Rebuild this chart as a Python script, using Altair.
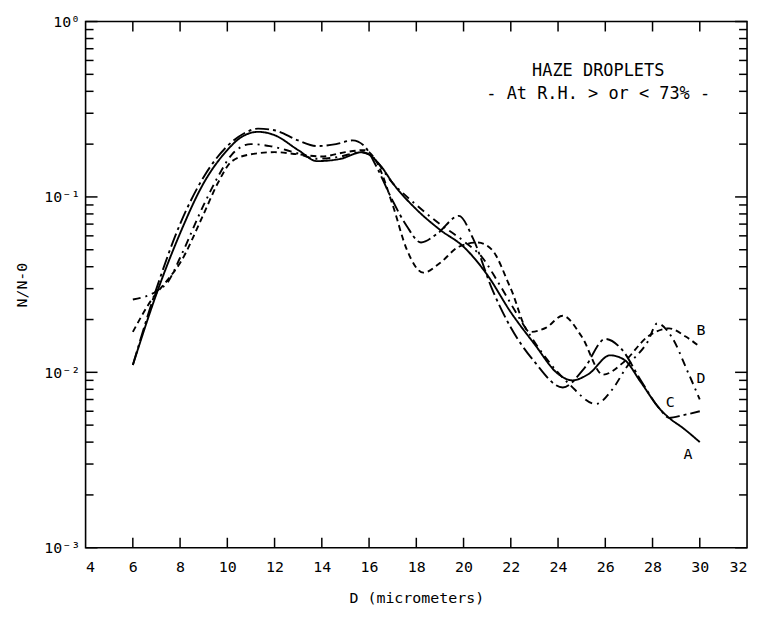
import altair as alt
import pandas as pd

# ---- data ----
xA = [6, 7, 8, 9, 10, 10.5, 11.3, 12, 13, 13.8, 14.8, 15.7, 16.5, 17, 18, 19, 20, 21, 22, 23,
      24, 24.6, 25.3, 26.2, 26.8, 27.5, 28.3, 28.7, 29.3, 30]
yA = [0.011, 0.028, 0.062, 0.12, 0.185, 0.215, 0.235, 0.225, 0.185, 0.16, 0.165, 0.18, 0.15, 0.12,
      0.085, 0.065, 0.052, 0.036, 0.022, 0.0145, 0.0098, 0.009, 0.0098, 0.0125, 0.0118, 0.0088,
      0.0062, 0.0055, 0.0048, 0.004]

xB = [6, 6.8, 7.5, 8, 9, 9.6, 10.2, 11, 12, 13, 14, 15, 15.8, 16.3, 17, 17.6, 18.3, 19, 19.8,
      20.6, 21.2, 22, 22.8, 23.5, 24.2, 25, 25.9, 26.8, 27.8, 28.7, 29.4, 30]
yB = [0.017, 0.026, 0.034, 0.042, 0.08, 0.12, 0.16, 0.175, 0.18, 0.175, 0.17, 0.18, 0.185, 0.16,
      0.09, 0.05, 0.037, 0.042, 0.052, 0.055, 0.05, 0.03, 0.017, 0.018, 0.021, 0.016, 0.0097,
      0.0115, 0.016, 0.0178, 0.016, 0.014]

xC = [6, 7, 8, 9, 10, 10.7, 11.3, 12, 13, 13.8, 14.6, 15.3, 15.8, 16.3, 17, 17.6, 18.2, 18.9,
      19.8, 20.4, 21.2, 22, 23, 24.2, 25.1, 26, 26.7, 27.5, 28.3, 28.7, 29.3, 30]
yC = [0.011, 0.03, 0.07, 0.13, 0.195, 0.23, 0.245, 0.24, 0.21, 0.195, 0.2, 0.21, 0.195, 0.15,
      0.095, 0.068, 0.055, 0.062, 0.078, 0.058, 0.03, 0.018, 0.0115, 0.0082, 0.0105, 0.0155,
      0.0135, 0.009, 0.0062, 0.0055, 0.0057, 0.006]

xD = [6, 7, 7.5, 8, 9, 9.6, 10.2, 11, 11.8, 12.8, 13.8, 14.8, 15.6, 16, 17, 18, 19, 20, 20.8,
      21.5, 22.5, 23.5, 24.5, 25.6, 26.3, 26.9, 27.8, 28.2, 28.8, 29.5, 30]
yD = [0.026, 0.029, 0.033, 0.045, 0.09, 0.13, 0.175, 0.2, 0.195, 0.18, 0.165, 0.17, 0.18, 0.175,
      0.12, 0.09, 0.07, 0.056, 0.045, 0.032, 0.019, 0.012, 0.0085, 0.0066, 0.008, 0.0107, 0.015,
      0.019, 0.016, 0.01, 0.007]

curve_names = ["A", "B", "C", "D"]
label_x = [29.5, 30.05, 28.75, 30.05]
label_y = [0.0034, 0.0175, 0.0068, 0.0093]

x_tick_values = [6, 8, 10, 12, 14, 16, 18, 20, 22, 24, 26, 28, 30]
x_label_values = [4, 6, 8, 10, 12, 14, 16, 18, 20, 22, 24, 26, 28, 30, 32]
y_major = [0.001, 0.01, 0.1, 1.0]
y_minor = [m * d for d in [0.001, 0.01, 0.1] for m in [2, 3, 4, 5, 6, 7, 8, 9]]

note_text = ["HAZE DROPLETS", "- At R.H. > or < 73% -"]
note_x = [25.7, 25.7]
note_y = [0.52, 0.385]

# ---- tables ----
rows = []
for name, xs, ys in zip(curve_names, [xA, xB, xC, xD], [yA, yB, yC, yD]):
    for xv, yv in zip(xs, ys):
        rows.append({"curve": name, "D": xv, "N": yv})
df = pd.DataFrame(rows)
labels_df = pd.DataFrame({"curve": curve_names, "D": label_x, "N": label_y})
notes_df = pd.DataFrame({"t": note_text, "D": note_x, "N": note_y})
xt_df = pd.DataFrame({"D": x_tick_values})
ymaj_df = pd.DataFrame({"N": y_major})
ymin_df = pd.DataFrame({"N": y_minor})

W, H = 665, 529
FONT = "DejaVu Sans Mono"

xscale = alt.Scale(domain=[4, 32], nice=False, zero=False)
yscale = alt.Scale(type="log", domain=[0.001, 1], nice=False)

xaxis = alt.Axis(values=x_label_values, title="D  (micrometers)", ticks=False, domain=False,
                 grid=False, labelPadding=12, titlePadding=16, format="d")
yaxis = alt.Axis(values=y_major, title="N/N-0", ticks=False, domain=False, grid=False,
                 labelPadding=6, titlePadding=14,
                 labelExpr="datum.value >= 0.9 ? '10⁰' : datum.value >= 0.09 ? '10⁻¹' : datum.value >= 0.009 ? '10⁻²' : '10⁻³'")

X = alt.X("D:Q", scale=xscale, axis=xaxis)
Y = alt.Y("N:Q", scale=yscale, axis=yaxis)

lines = alt.Chart(df).mark_line(color="black", strokeWidth=1.9, interpolate="monotone").encode(
    x=X, y=Y,
    strokeDash=alt.StrokeDash("curve:N",
                              scale=alt.Scale(domain=curve_names,
                                              range=[[1, 0], [6, 4], [14, 4, 3, 4], [8, 5, 2, 5]]),
                              legend=None),
    detail="curve:N",
)

curve_labels = alt.Chart(labels_df).mark_text(font=FONT, fontSize=15, color="black").encode(
    x=X, y=Y, text="curve:N")

notes = alt.Chart(notes_df).mark_text(font=FONT, fontSize=17, color="black").encode(
    x=X, y=Y, text="t:N")

xt_bottom = alt.Chart(xt_df).mark_rule(color="black", strokeWidth=1.5).encode(
    x=X, y=alt.value(H), y2=alt.value(H - 10))
xt_top = alt.Chart(xt_df).mark_rule(color="black", strokeWidth=1.5).encode(
    x=X, y=alt.value(0), y2=alt.value(10))

ymaj_left = alt.Chart(ymaj_df).mark_rule(color="black", strokeWidth=1.5).encode(
    y=Y, x=alt.value(0), x2=alt.value(12))
ymaj_right = alt.Chart(ymaj_df).mark_rule(color="black", strokeWidth=1.5).encode(
    y=Y, x=alt.value(W - 12), x2=alt.value(W))
ymin_left = alt.Chart(ymin_df).mark_rule(color="black", strokeWidth=1.5).encode(
    y=Y, x=alt.value(0), x2=alt.value(8))
ymin_right = alt.Chart(ymin_df).mark_rule(color="black", strokeWidth=1.5).encode(
    y=Y, x=alt.value(W - 8), x2=alt.value(W))

chart = alt.layer(
    xt_bottom, xt_top, ymaj_left, ymaj_right, ymin_left, ymin_right,
    lines, curve_labels, notes,
).properties(
    width=W, height=H,
    autosize=alt.AutoSizeParams(type="none"),
    padding={"left": 78, "top": 12, "right": 7, "bottom": 60},
).configure(
    background="white"
).configure_view(
    stroke="black", strokeWidth=1.6
).configure_axis(
    labelFont=FONT, titleFont=FONT, labelFontSize=15, titleFontSize=15,
    labelColor="black", titleColor="black", titleFontWeight="normal",
)

chart.save("out.html", embed_options={"renderer": "svg", "actions": False})
